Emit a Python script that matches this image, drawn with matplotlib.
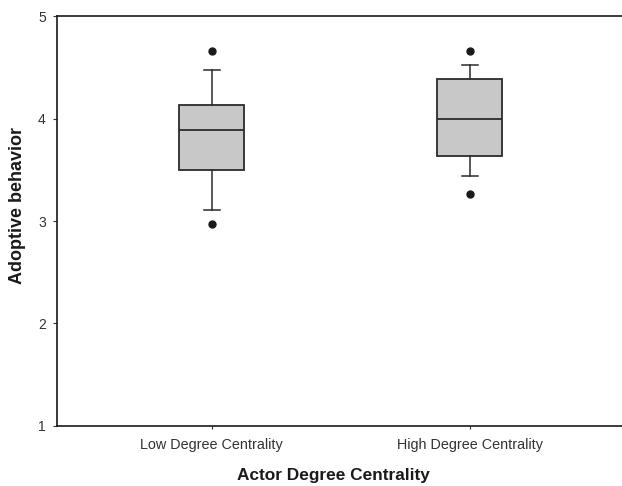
import matplotlib.pyplot as plt

plt.rcParams['font.family'] = ['Liberation Sans', 'DejaVu Sans']

# box statistics
groups = ["Low Degree Centrality", "High Degree Centrality"]
medians = [3.89, 4.00]
q1 = [3.50, 3.63]
q3 = [4.13, 4.39]
whisker_low = [3.11, 3.44]
whisker_high = [4.47, 4.52]
outliers = [[2.97, 4.66], [3.26, 4.66]]

stats = []
for i in range(len(groups)):
    stats.append({
        "med": medians[i], "q1": q1[i], "q3": q3[i],
        "whislo": whisker_low[i], "whishi": whisker_high[i],
        "fliers": outliers[i], "label": groups[i],
    })

fig = plt.figure(figsize=(6.22, 4.86), dpi=100)
ax = fig.add_axes([0.0916, 0.1235, 0.9084, 0.8435])

edge = "#2b2b2b"
ax.bxp(stats, positions=[1, 2], widths=0.252, capwidths=0.06,
       patch_artist=True,
       boxprops=dict(facecolor="#c8c8c8", edgecolor=edge, linewidth=1.3),
       medianprops=dict(color=edge, linewidth=1.3),
       whiskerprops=dict(color=edge, linewidth=1.1),
       capprops=dict(color=edge, linewidth=1.1),
       flierprops=dict(marker="o", markerfacecolor="#1a1a1a",
                       markeredgecolor="#1a1a1a", markersize=5))

ax.set_xlim(0.4, 2.59)
ax.set_ylim(1, 5)
ax.set_yticks([1, 2, 3, 4, 5])
ax.spines["right"].set_visible(False)
for s in ["left", "bottom", "top"]:
    ax.spines[s].set_linewidth(1.2)
    ax.spines[s].set_color("#1a1a1a")

ax.tick_params(axis="y", length=3, width=0.8, labelsize=10, colors="#333333", pad=5)
ax.tick_params(axis="x", length=2, width=0.8, labelsize=10.4, colors="#333333", pad=7)
ax.set_xticks([1, 2])
ax.set_xticklabels(groups)

ax.set_xlabel("Actor Degree Centrality", fontsize=12.4, fontweight="bold",
              color="#1a1a1a")
ax.set_ylabel("Adoptive behavior", fontsize=13, fontweight="bold",
              color="#1a1a1a")
ax.xaxis.set_label_coords(0.4885, -0.103)
ax.yaxis.set_label_coords(-0.054, 0.539)

fig.savefig("out.png", dpi=100)
